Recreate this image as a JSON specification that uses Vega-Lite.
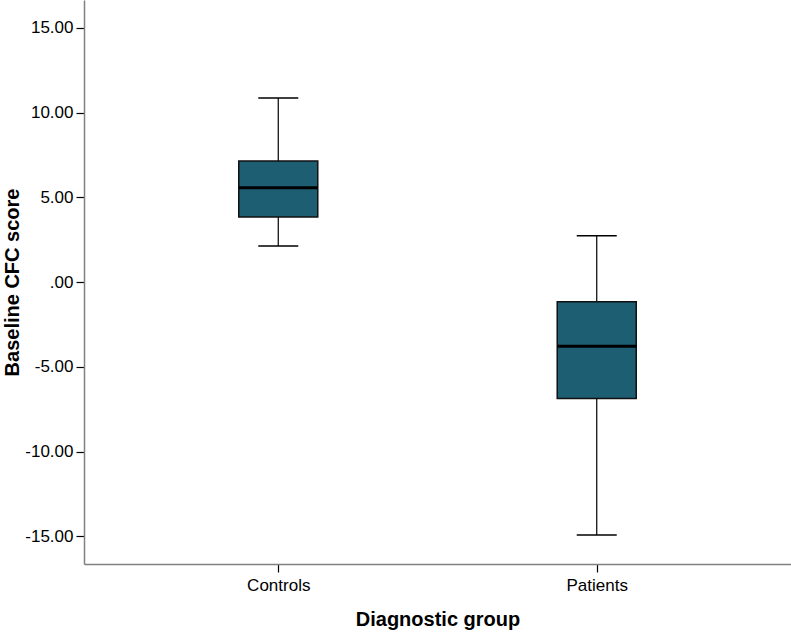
{
  "$schema": "https://vega.github.io/schema/vega-lite/v6.json",
  "width": 707,
  "height": 564,
  "autosize": {"type": "none"},
  "padding": {"left": 84, "top": 0, "right": 0, "bottom": 71},
  "background": "white",
  "config": {
    "view": {"stroke": null},
    "font": "Liberation Sans",
    "axis": {"grid": false}
  },
  "data": {
    "values": [
      {"group": "Controls", "lower": 2.13, "q1": 3.84, "median": 5.57, "q3": 7.15, "upper": 10.87},
      {"group": "Patients", "lower": -14.93, "q1": -6.87, "median": -3.78, "q3": -1.16, "upper": 2.74}
    ]
  },
  "encoding": {
    "x": {
      "field": "group",
      "type": "nominal",
      "scale": {"type": "point", "padding": 0.61},
      "axis": {
        "title": "Diagnostic group",
        "titleFontSize": 20,
        "titleFontWeight": "bold",
        "titleColor": "#000",
        "titlePadding": 16,
        "labelAngle": 0,
        "labelFontSize": 17,
        "labelColor": "#000",
        "labelPadding": 5,
        "domainColor": "#808080",
        "domainWidth": 1.5,
        "tickColor": "#000",
        "tickSize": 8,
        "tickWidth": 1.2
      }
    }
  },
  "layer": [
    {
      "mark": {"type": "rule", "stroke": "#000", "strokeWidth": 1.2},
      "encoding": {
        "y": {
          "field": "lower",
          "type": "quantitative",
          "scale": {"domain": [-16.64, 16.65], "nice": false, "zero": false},
          "axis": {
            "title": "Baseline CFC score",
            "titleFontSize": 20,
            "titleFontWeight": "bold",
            "titleColor": "#000",
            "titlePadding": 2,
            "values": [-15, -10, -5, 0, 5, 10, 15],
            "labelExpr": "datum.value == 0 ? '.00' : replace(format(datum.value, '.2f'), '\u2212', '-')",
            "labelFontSize": 17,
            "labelColor": "#000",
            "labelPadding": 3,
            "domainColor": "#808080",
            "domainWidth": 1.5,
            "tickColor": "#000",
            "tickSize": 8,
            "tickWidth": 1.2
          }
        },
        "y2": {"field": "upper"}
      }
    },
    {
      "mark": {"type": "bar", "width": 79, "fill": "#1e5e73", "stroke": "#111", "strokeWidth": 1.5},
      "encoding": {
        "y": {"field": "q1", "type": "quantitative"},
        "y2": {"field": "q3"}
      }
    },
    {
      "mark": {"type": "tick", "size": 79, "thickness": 3, "color": "#000", "opacity": 1},
      "encoding": {"y": {"field": "median", "type": "quantitative"}}
    },
    {
      "mark": {"type": "tick", "size": 40, "thickness": 1.5, "color": "#000", "opacity": 1},
      "encoding": {"y": {"field": "upper", "type": "quantitative"}}
    },
    {
      "mark": {"type": "tick", "size": 40, "thickness": 1.5, "color": "#000", "opacity": 1},
      "encoding": {"y": {"field": "lower", "type": "quantitative"}}
    }
  ]
}
